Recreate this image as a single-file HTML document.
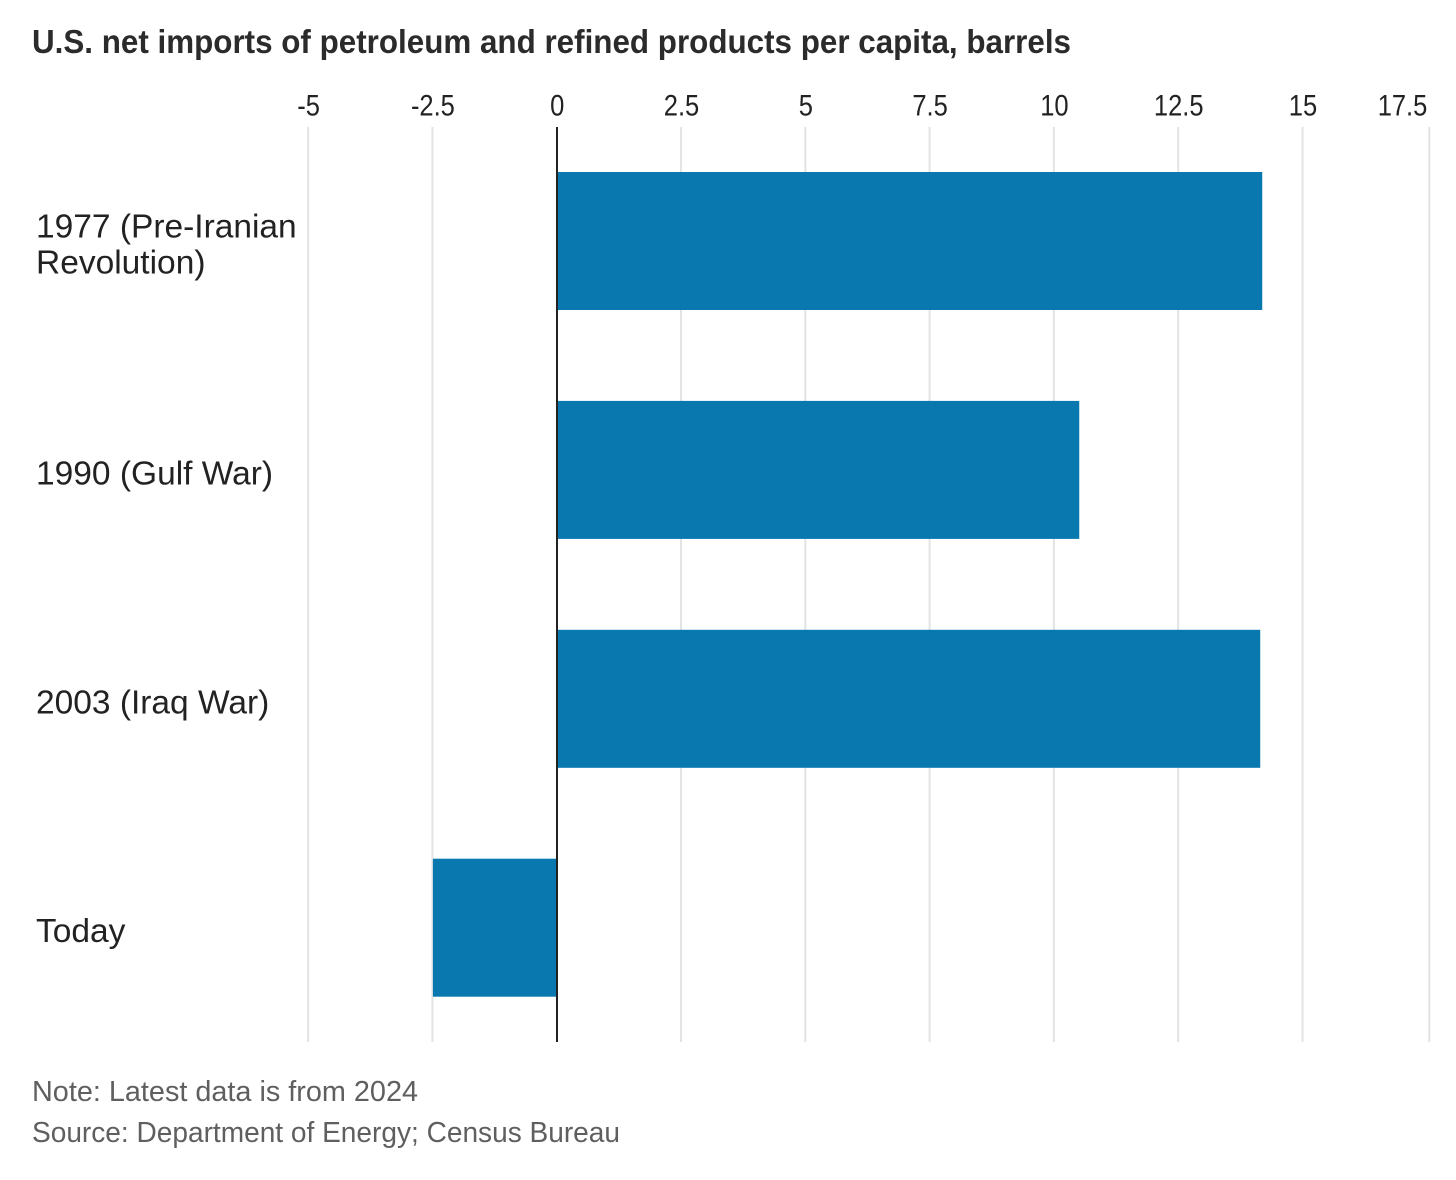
<!DOCTYPE html>
<html lang="en">
<head>
<meta charset="utf-8">
<title>U.S. net imports of petroleum and refined products per capita</title>
<style>
html,body{margin:0;padding:0;background:#fff;}
svg{display:block;font-family:"Liberation Sans",sans-serif;}
</style>
</head>
<body>
<svg id="chart" xmlns="http://www.w3.org/2000/svg" width="1456" height="1180" viewBox="0 0 1456 1180">
  <rect x="0" y="0" width="1456" height="1180" fill="#ffffff"/>
  <text x="32" y="53" font-size="33" font-weight="700" fill="#2b2b2b" textLength="1039" lengthAdjust="spacingAndGlyphs">U.S. net imports of petroleum and refined products per capita, barrels</text>
  <g id="grid"></g>
  <g id="ticks"></g>
  <g id="bars"></g>
  <g id="cats"></g>
  <g id="zero"></g>
  <text x="32" y="1101" font-size="29" fill="#5f5f5f" textLength="386" lengthAdjust="spacingAndGlyphs">Note: Latest data is from 2024</text>
  <text x="32" y="1142" font-size="29" fill="#5f5f5f" textLength="588" lengthAdjust="spacingAndGlyphs">Source: Department of Energy; Census Bureau</text>
</svg>
<script>
const categories = [["1977 (Pre-Iranian", "Revolution)"], ["1990 (Gulf War)"], ["2003 (Iraq War)"], ["Today"]];
const seriesValues = [14.19, 10.51, 14.15, -2.49];
const tickValues = [-5, -2.5, 0, 2.5, 5, 7.5, 10, 12.5, 15, 17.5];
const tickLabels = ["-5", "-2.5", "0", "2.5", "5", "7.5", "10", "12.5", "15", "17.5"];

const NS = "http://www.w3.org/2000/svg";
const PLOT_TOP = 127, PLOT_BOTTOM = 1042;
const BAR_H = 138, BAND_STEP = 228.9, FIRST_BAR_TOP = 172;
const TICK_CONDENSE = 0.85, LABEL_CONDENSE = 1.0;

function xScale(v) { return 556.7 + v * 49.72; }
function bandTop(i) { return FIRST_BAR_TOP + i * BAND_STEP; }
function gridX(v) { return v === tickValues[tickValues.length - 1] ? xScale(v) + 2.5 : xScale(v); }

function make(tag, attrs, parent) {
  const el = document.createElementNS(NS, tag);
  for (const k in attrs) el.setAttribute(k, attrs[k]);
  parent.appendChild(el);
  return el;
}
function condense(el, factor) {
  const natural = el.getComputedTextLength();
  el.setAttribute("textLength", (natural * factor).toFixed(1));
  el.setAttribute("lengthAdjust", "spacingAndGlyphs");
}

const gridG = document.getElementById("grid");
const ticksG = document.getElementById("ticks");
tickValues.forEach(function (t, i) {
  if (t !== 0) {
    const line = make("line", {x1: gridX(t), x2: gridX(t), y1: PLOT_TOP, y2: PLOT_BOTTOM, stroke: "#e3e3e3", "stroke-width": 2}, gridG);
    
    
  }
  const last = i === tickValues.length - 1;
  const label = make("text", {x: last ? gridX(t) - 2 : xScale(t) + 0.5, y: 115.5, "font-size": 30, fill: "#222222", "text-anchor": last ? "end" : "middle"}, ticksG);
  label.textContent = tickLabels[i];
  
  
  condense(label, TICK_CONDENSE);
});

const barsG = document.getElementById("bars");
seriesValues.forEach(function (v, i) {
  const x0 = xScale(Math.min(0, v)), x1 = xScale(Math.max(0, v));
  const bar = make("rect", {x: x0, y: bandTop(i), width: x1 - x0, height: BAR_H, fill: "#0878ae"}, barsG);
  
  
});

const catsG = document.getElementById("cats");
categories.forEach(function (lines, i) {
  const centre = bandTop(i) + BAR_H / 2;
  const first = centre + 14 - (lines.length - 1) * 17.5 + (lines.length > 1 ? 0 : 0.5);
  lines.forEach(function (line, j) {
    const label = make("text", {x: 36, y: first + j * 36, "font-size": 33.5, fill: "#222222"}, catsG);
    label.textContent = line;
    
    
    condense(label, LABEL_CONDENSE);
  });
});

const zeroG = document.getElementById("zero");
const zeroLine = make("line", {x1: Math.round(xScale(0)), x2: Math.round(xScale(0)), y1: PLOT_TOP, y2: PLOT_BOTTOM, stroke: "#222222", "stroke-width": 2}, zeroG);


</script>
</body>
</html>
